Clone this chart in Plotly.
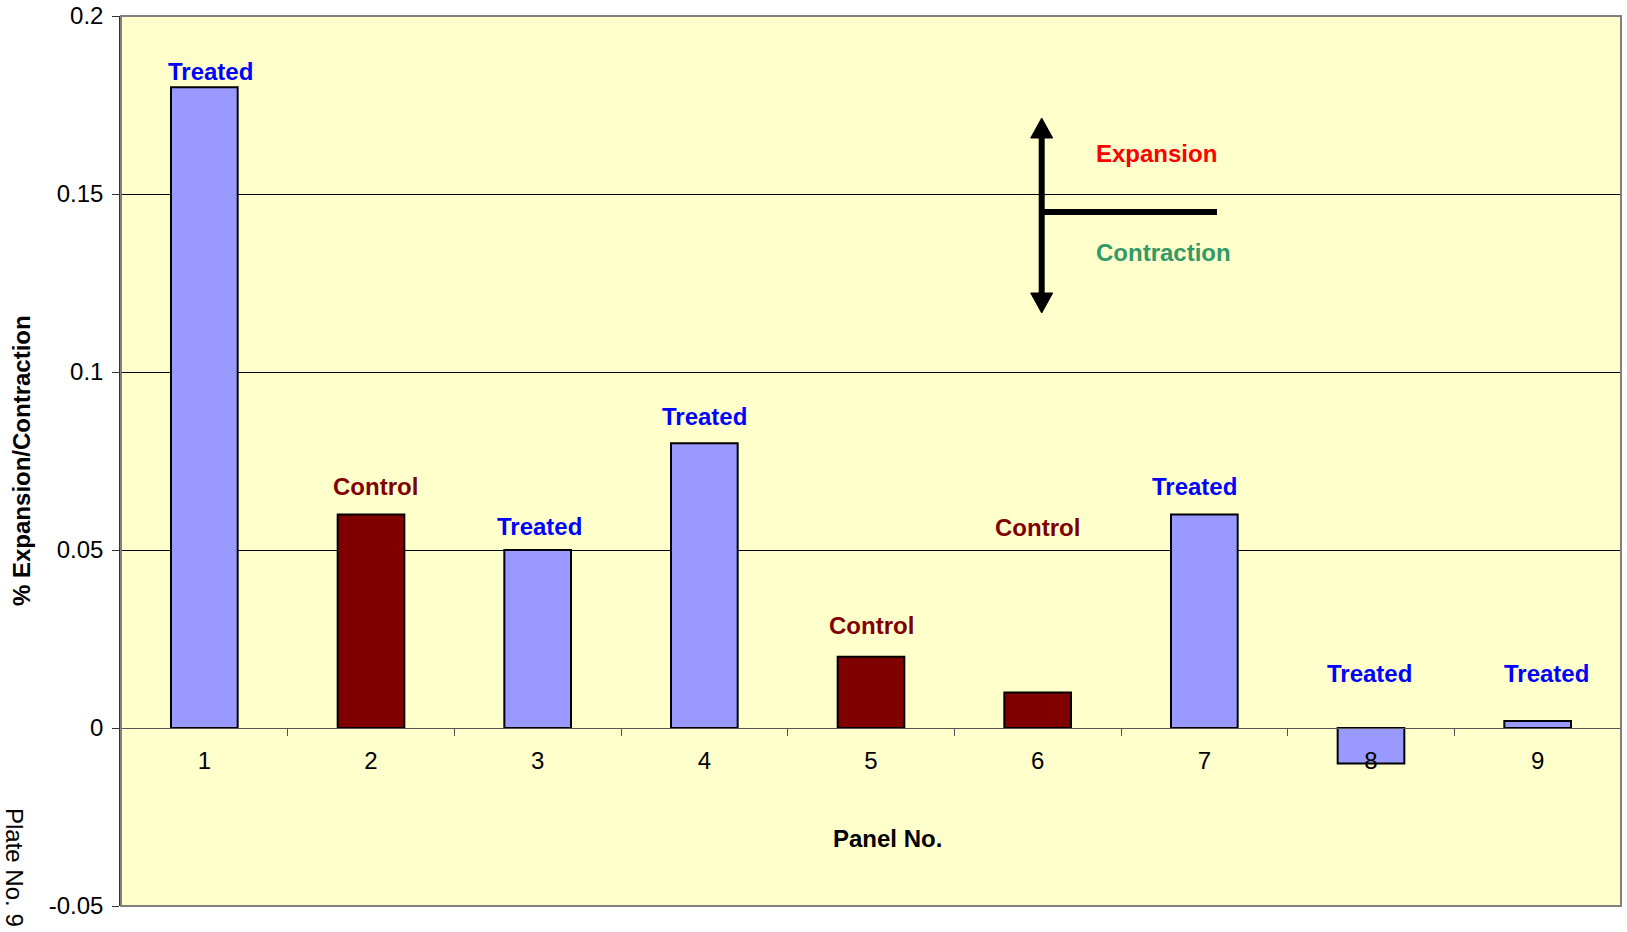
import plotly.graph_objects as go

# Panel results for Plate No. 9
panels = ["1", "2", "3", "4", "5", "6", "7", "8", "9"]
change_pct = [0.18, 0.06, 0.05, 0.08, 0.02, 0.01, 0.06, -0.01, 0.002]
groups = ["Treated", "Control", "Treated", "Treated", "Control",
          "Control", "Treated", "Treated", "Treated"]
y_ticks = [-0.05, 0, 0.05, 0.1, 0.15, 0.2]
y_tick_text = ["-0.05", "0", "0.05", "0.1", "0.15", "0.2"]

FILL = {"Treated": "#9999FF", "Control": "#800000"}
LABEL_COLOR = {"Treated": "#0000FF", "Control": "#800000"}
FONT = "Liberation Sans, Arial, sans-serif"

W, H = 1627, 932
ML, MR, MT, MB = 121, 6, 16, 26
PW, PH = W - ML - MR, H - MT - MB


def px_x(px):
    return (px - ML) / PW


def px_y(py):
    return (H - MB - py) / PH


fig = go.Figure()
fig.add_trace(go.Bar(
    x=panels,
    y=change_pct,
    marker=dict(color=[FILL[g] for g in groups],
                line=dict(color="#000000", width=2)),
    hoverinfo="x+y",
))

# group label placement above each bar (data units) and small sideways nudges
label_y = [0.1844, 0.0678, 0.0565, 0.0874, 0.0287, 0.0563, 0.0678, 0.0153, 0.0153]
label_dx = [6, 4, 2, 0, 0, 0, -10, -2, 9]

annotations = []
for i, (g, ly, dx) in enumerate(zip(groups, label_y, label_dx)):
    annotations.append(dict(
        x=i, y=ly, xref="x", yref="y", text=f"<b>{g}</b>", showarrow=False,
        xanchor="center", yanchor="middle", xshift=dx,
        font=dict(family=FONT, size=24, color=LABEL_COLOR[g]),
    ))


def paper_text(px, py, text, color="#000000", angle=0, xanchor="center"):
    return dict(x=px_x(px), y=px_y(py), xref="paper", yref="paper",
                text=text, showarrow=False, textangle=angle,
                xanchor=xanchor, yanchor="middle",
                font=dict(family=FONT, size=24, color=color))


# axis titles, plate note and direction key labels
annotations += [
    paper_text(887, 838, "<b>Panel No.</b>"),
    paper_text(21, 461, "<b>% Expansion/Contraction</b>", angle=-90),
    paper_text(15, 867, "Plate No. 9", angle=90),
    paper_text(1094, 154, "<b>Expansion</b>", color="#FF0000", xanchor="left"),
    paper_text(1094, 253, "<b>Contraction</b>", color="#339966", xanchor="left"),
]

# direction key: double-headed vertical arrow with a horizontal baseline
ax, top_tip, bot_tip, head_h, head_w = 1041.7, 118, 313, 20, 22
shapes = [
    dict(type="rect", xref="paper", yref="paper", x0=0, x1=1, y0=0, y1=1,
         line=dict(color="#808080", width=2), layer="above"),
    dict(type="line", xref="paper", yref="paper",
         x0=px_x(ax), x1=px_x(ax), y0=px_y(top_tip + head_h - 2), y1=px_y(bot_tip - head_h + 2),
         line=dict(color="#000000", width=6)),
    dict(type="line", xref="paper", yref="paper",
         x0=px_x(ax), x1=px_x(1217), y0=px_y(212), y1=px_y(212),
         line=dict(color="#000000", width=6)),
    dict(type="path", xref="paper", yref="paper",
         path=(f"M {px_x(ax)} {px_y(top_tip)} "
               f"L {px_x(ax - head_w / 2)} {px_y(top_tip + head_h)} "
               f"L {px_x(ax + head_w / 2)} {px_y(top_tip + head_h)} Z"),
         fillcolor="#000000", line=dict(color="#000000", width=1)),
    dict(type="path", xref="paper", yref="paper",
         path=(f"M {px_x(ax)} {px_y(bot_tip)} "
               f"L {px_x(ax - head_w / 2)} {px_y(bot_tip - head_h)} "
               f"L {px_x(ax + head_w / 2)} {px_y(bot_tip - head_h)} Z"),
         fillcolor="#000000", line=dict(color="#000000", width=1)),
]

y_min, y_max = -0.05, 0.2
fig.update_layout(
    width=W, height=H,
    margin=dict(l=ML, r=MR, t=MT, b=MB, pad=0, autoexpand=False),
    paper_bgcolor="#FFFFFF",
    plot_bgcolor="#FFFFCC",
    bargap=0.6,
    showlegend=False,
    font=dict(family=FONT, size=24, color="#000000"),
    xaxis=dict(
        type="category",
        range=[-0.5, len(panels) - 0.5],
        anchor="free",
        position=(0 - y_min) / (y_max - y_min),
        automargin=False,
        showline=True, linecolor="#555555", linewidth=1,
        ticks="outside", tickson="boundaries", ticklen=7, tickcolor="#555555",
        showgrid=False, zeroline=False,
        tickfont=dict(family=FONT, size=24, color="#000000"),
        ticklabelstandoff=11,
    ),
    yaxis=dict(
        range=[y_min, y_max],
        automargin=False,
        tickvals=y_ticks, ticktext=y_tick_text,
        showgrid=True, gridcolor="#000000", gridwidth=1,
        zeroline=False,
        showline=True, linecolor="#333333", linewidth=1.5,
        ticks="outside", ticklen=7, tickcolor="#333333",
        tickfont=dict(family=FONT, size=24, color="#000000"),
        ticklabelstandoff=4,
    ),
    annotations=annotations,
    shapes=shapes,
)

fig.write_html("out.html")
